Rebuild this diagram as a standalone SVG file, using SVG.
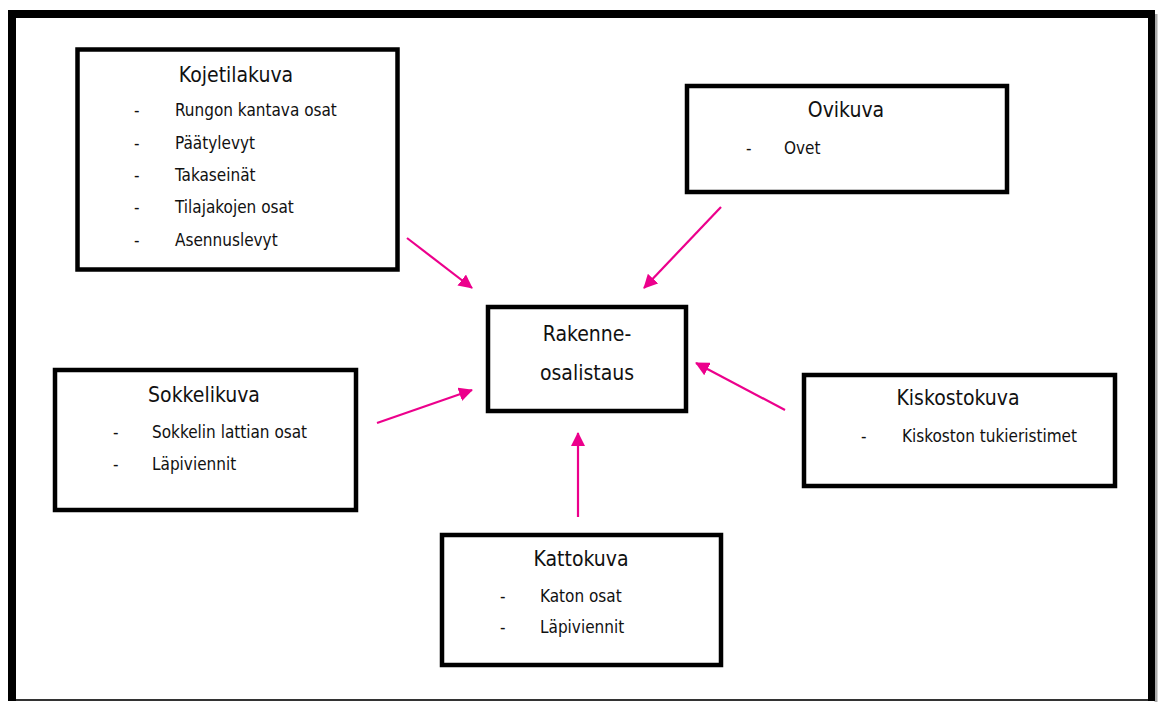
<svg xmlns="http://www.w3.org/2000/svg" width="1161" height="702" viewBox="0 0 1161 702">
<style>
.box{fill:#fff;stroke:#000;stroke-width:4.5}
text{font-family:"DejaVu Sans Condensed","DejaVu Sans",sans-serif;font-stretch:condensed;fill:#111}
.t{font-size:21px;text-anchor:middle}
.i{font-size:17px}
.c{stroke:#EC008C;stroke-width:2.2;fill:none;marker-end:url(#ah)}
</style>
<defs>
<marker id="ah" markerUnits="userSpaceOnUse" markerWidth="14" markerHeight="14" refX="13" refY="7" orient="auto">
<path d="M0,0 L14,7 L0,14 Z" fill="#EC008C"/>
</marker>
</defs>
<rect width="1161" height="702" fill="#fff"/>
<g id="frame">
<line x1="1156" y1="14" x2="1156" y2="702" stroke="#aaa" stroke-width="3"/>
<line x1="8" y1="700" x2="1155" y2="700" stroke="#333" stroke-width="2"/>
<line x1="12" y1="10" x2="12" y2="701" stroke="#000" stroke-width="8"/>
<line x1="8" y1="14" x2="1155" y2="14" stroke="#000" stroke-width="8"/>
<line x1="1151.5" y1="10" x2="1151.5" y2="701" stroke="#000" stroke-width="7"/>
</g>
<g id="connectors">
<line class="c" x1="407" y1="238" x2="472" y2="288"/>
<line class="c" x1="721" y1="207" x2="644" y2="288"/>
<line class="c" x1="377" y1="423" x2="472" y2="390"/>
<line class="c" x1="785" y1="410" x2="696" y2="363"/>
<line class="c" x1="578" y1="517" x2="578" y2="433"/>
</g>
<g id="kojetilakuva">
<rect class="box" x="77.5" y="49.5" width="320" height="220"/>
<text class="t" x="236" y="82">Kojetilakuva</text>
<text class="i" x="134" y="116">-</text><text class="i" x="175" y="116">Rungon kantava osat</text>
<text class="i" x="134" y="148.5">-</text><text class="i" x="175" y="148.5">Päätylevyt</text>
<text class="i" x="134" y="181">-</text><text class="i" x="175" y="181">Takaseinät</text>
<text class="i" x="134" y="213">-</text><text class="i" x="175" y="213">Tilajakojen osat</text>
<text class="i" x="134" y="245.5">-</text><text class="i" x="175" y="245.5">Asennuslevyt</text>
</g>
<g id="ovikuva">
<rect class="box" x="687" y="86" width="320" height="106"/>
<text class="t" x="846" y="117">Ovikuva</text>
<text class="i" x="746" y="154">-</text><text class="i" x="784" y="154">Ovet</text>
</g>
<g id="rakenne">
<rect class="box" x="488" y="307" width="198" height="104"/>
<text class="t" x="587" y="341">Rakenne-</text>
<text class="t" x="587" y="380">osalistaus</text>
</g>
<g id="sokkelikuva">
<rect class="box" x="55" y="370" width="301" height="140"/>
<text class="t" x="204" y="402">Sokkelikuva</text>
<text class="i" x="113" y="438">-</text><text class="i" x="152" y="438">Sokkelin lattian osat</text>
<text class="i" x="113" y="470">-</text><text class="i" x="152" y="470">Läpiviennit</text>
</g>
<g id="kiskostokuva">
<rect class="box" x="804" y="375" width="311" height="111"/>
<text class="t" x="958" y="405">Kiskostokuva</text>
<text class="i" x="861" y="442">-</text><text class="i" x="902" y="442">Kiskoston tukieristimet</text>
</g>
<g id="kattokuva">
<rect class="box" x="442" y="535" width="279" height="130"/>
<text class="t" x="581" y="566">Kattokuva</text>
<text class="i" x="500" y="602">-</text><text class="i" x="540" y="602">Katon osat</text>
<text class="i" x="500" y="633">-</text><text class="i" x="540" y="633">Läpiviennit</text>
</g>
</svg>
